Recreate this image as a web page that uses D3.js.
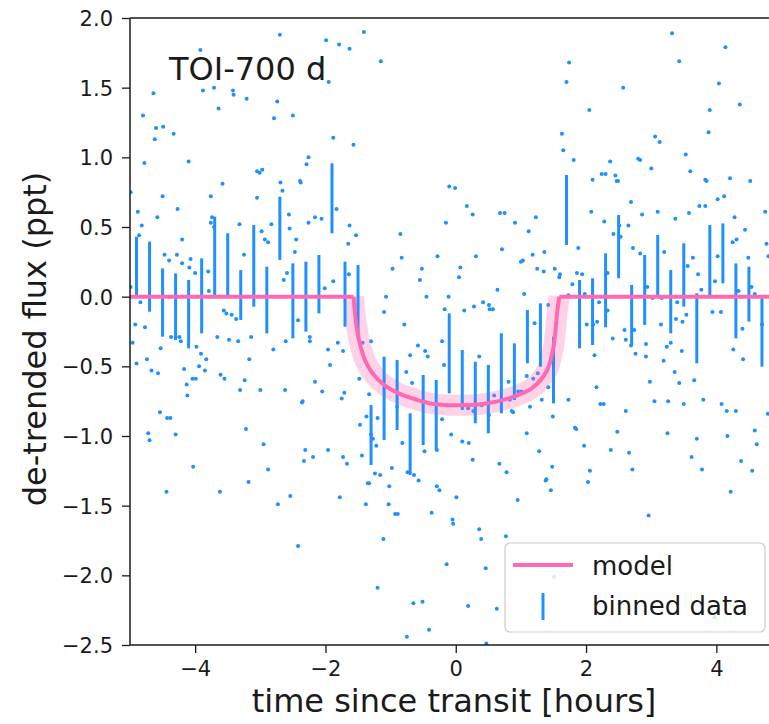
<!DOCTYPE html>
<html><head><meta charset="utf-8">
<script src="https://cdn.jsdelivr.net/npm/d3@7"></script>
<style>html,body{margin:0;padding:0;background:#fff;} svg{display:block;font-family:"DejaVu Sans",sans-serif;}</style>
</head><body><svg id="chart" width="769" height="724"></svg>
<script>
// ---- data ----
const xTicks = [-4, -2, 0, 2, 4];
const yTicks = [2.0, 1.5, 1.0, 0.5, 0.0, -0.5, -1.0, -1.5, -2.0, -2.5];

const binT = [-4.9,-4.7,-4.5,-4.3,-4.1,-3.9,-3.7,-3.5,-3.3,-3.1,-2.9,-2.7,-2.5,-2.3,-2.1,-1.9,-1.7,-1.5,-1.3,-1.1,-0.9,-0.7,-0.5,-0.3,-0.1,0.1,0.3,0.5,0.7,0.9,1.1,1.3,1.5,1.7,1.9,2.1,2.3,2.5,2.7,2.9,3.1,3.3,3.5,3.7,3.9,4.1,4.3,4.5,4.7];
const binLow = [0.0,-0.108,-0.287,-0.311,-0.371,-0.263,0.0,0.0,-0.167,-0.072,-0.263,0.263,-0.299,-0.251,-0.120,0.455,-0.215,-0.263,-1.208,-1.029,-0.957,-1.280,-1.065,-1.100,-0.694,-0.813,-0.909,-0.981,-0.837,-0.742,-0.478,-0.502,-0.766,0.371,-0.371,-0.347,-0.22,0.132,-0.347,-0.203,0.0,-0.263,-0.072,-0.478,0.012,0.096,-0.299,-0.179,-0.502];
const binHigh = [0.431,0.395,0.203,0.167,0.120,0.275,0.574,0.455,0.191,0.514,0.215,0.718,0.239,0.251,0.299,0.957,0.251,0.227,-0.778,-0.431,-0.455,-0.837,-0.562,-0.598,-0.120,-0.383,-0.467,-0.490,-0.263,-0.335,-0.096,-0.048,-0.287,0.873,0.120,0.132,0.311,0.586,0.084,0.299,0.443,0.191,0.383,0.024,0.514,0.526,0.239,0.215,-0.012];

const modelT = [-5.0,-1.57,-1.55,-1.52,-1.46,-1.38,-1.26,-1.08,-0.85,-0.60,-0.34,0.0,0.42,0.88,1.19,1.40,1.50,1.56,1.59,5.0];
const modelF = [0.0,0.0,-0.10,-0.22,-0.36,-0.47,-0.56,-0.64,-0.70,-0.74,-0.77,-0.78,-0.77,-0.72,-0.65,-0.53,-0.36,-0.10,0.0,0.0];

const dotT = [-3.92,-4.64,-3.88,-3.71,-3.42,-3.21,-4.80,-3.64,-4.60,-4.49,-4.62,-4.33,-4.78,-4.10,-3.58,-4.50,-3.76,-3.05,-4.27,-4.88,-4.58,-4.82,-3.32,-4.99,
-2.70,-1.99,-1.79,-1.63,-2.08,-1.95,-3.41,-2.74,-2.79,-2.50,-1.88,
-1.41,-1.15,-1.57,1.74,1.70,1.63,1.65,
3.32,4.14,3.43,4.04,2.57,2.05,3.90,4.36,3.88,3.06,3.13,3.53,1.81,2.37,2.80,2.83,3.00,3.60,2.10,2.24,2.30,2.45,2.47,2.49,3.83,3.85,4.21,4.52,2.69,2.08,2.86,3.10,3.37,3.58,3.74,3.83,4.02,4.12,4.28,4.44,4.75,2.28,2.65,2.51,2.53,2.42,1.88,2.72,2.83,3.20,3.64,3.56,4.02,3.98,4.31,4.25,4.77,4.49,4.80,2.33,2.33,1.86,1.94,1.79,1.98,2.20,2.01,2.11,2.17,2.59,2.74,2.41,2.94,3.02,3.16,3.15,3.40,3.38,3.48,3.54,3.72,3.77,3.94,4.07,4.40,4.34,4.54,4.59,4.70,1.73,1.60,
2.61,2.69,2.92,3.24,3.30,3.47,2.13,2.76,2.92,3.19,4.26,4.41,3.36,2.98,3.43,3.66,2.16,1.73,2.22,2.27,2.61,3.05,3.26,3.50,3.80,4.08,4.16,4.30,4.79,1.83,1.85,2.48,3.25,3.70,4.17,4.59,4.62,1.97,2.38,2.66,3.62,4.38,2.06,2.71,3.78,4.55,2.03,4.22,2.96,3.97,
-4.12,-3.31,-3.00,-2.62,-2.36,-4.54,-4.43,-4.38,-4.72,-4.70,-4.30,-3.22,-2.95,-2.31,-2.33,-4.03,-2.88,-3.18,-4.44,-3.62,-2.54,-2.73,-2.42,
-1.78,-1.38,-1.35,-1.03,-1.02,-0.93,-0.89,-1.11,-1.20,
-0.57,-0.29,-0.25,0.01,-0.37,-0.05,-0.04,0.36,0.39,0.77,0.95,1.46,1.38,-0.14,0.46,1.51,-0.65,-0.51,0.19,0.63,-0.75,-0.41,0.47,
-2.39,-0.10,-0.01,0.17,0.26,0.68,0.75,1.23,-2.26,-2.16,-2.06,-1.83,-1.63,-1.53,-1.65,-0.15,0.91,1.12,-0.85,0.71,1.36,-0.83,-0.28,0.31,1.18,1.00,1.03,-0.97,-0.52,0.07,0.05,-0.55,1.25,1.35,1.52,1.59,-1.88,-2.01,0.64,-1.07,-0.45,-0.11,1.05,0.28,0.42,0.51,0.52,0.57,0.13,-0.17,-1.10,-0.79,1.21,1.42,1.54,-2.24,-2.24,-1.96,-1.81,-1.73,-1.43,-1.30,-0.58,-0.47,-0.43,-0.21,-0.70,0.36,-0.18,-1.93,-2.16,-2.05,-1.75,-1.71,-1.48,-1.33,-0.76,-0.67,0.81,1.09,1.19,1.26,0.96,1.01,1.42,0.59,0.83,0.86,0.88,1.32,1.14,1.49,-2.35,-1.37,-1.20,-1.47,-0.90,0.19,0.27,0.40,0.51,-0.21,-0.07,0.10,0.20,1.09,-2.19,-1.96,-1.73,-1.44,-1.67,-1.30,-1.27,-1.22,-0.82,-0.48,-0.29,0.26,0.67,0.78,1.28,1.48,1.39,-1.24,-1.16,-0.98,-0.74,-0.64,-1.33,
-3.05,-3.01,-2.97,-2.26,-2.29,-2.69,-2.66,-2.38,-2.56,-4.86,-3.74,-3.76,-3.71,-4.20,-3.80,-3.25,-2.98,-2.83,-2.93,-2.88,-2.55,-2.45,-2.47,-4.47,-4.40,-4.28,-4.20,-4.07,-4.09,-4.00,-4.99,-3.79,-4.84,-4.92,-4.77,-4.96,-4.53,-4.74,-4.90,-4.67,-4.57,-4.37,-4.30,-4.24,-4.22,-3.98,-3.91,-3.83,-3.94,-3.85,-4.17,-4.13,-4.04,-3.99,-3.66,-3.56,-3.52,-3.44,-3.37,-3.48,-3.34,-3.14,-3.17,-3.61,-3.55,-3.24,-2.80,-2.64,-2.59,-2.61,-2.42,-1.64];
const dotF = [1.77,1.46,1.48,1.50,1.48,1.42,1.30,1.35,1.21,1.22,1.13,1.17,0.96,0.97,0.81,0.72,0.72,0.71,0.63,0.61,0.57,0.51,0.52,0.75,
1.88,1.84,1.81,1.78,1.67,1.54,1.45,1.40,1.28,1.30,1.14,
1.90,1.69,1.09,1.68,1.54,1.17,1.05,
1.89,1.79,1.69,1.53,1.50,1.34,1.34,1.38,1.18,1.15,1.11,1.02,0.98,0.97,0.99,0.98,0.92,0.90,0.84,0.88,0.88,0.87,0.83,0.83,0.84,0.83,0.85,0.83,0.68,0.61,0.59,0.61,0.56,0.60,0.65,0.65,0.70,0.72,0.57,0.48,0.61,0.54,0.51,0.51,0.43,0.45,0.35,0.35,0.31,0.32,0.28,0.22,0.29,0.11,0.41,0.39,0.38,0.28,0.29,0.17,-0.10,0.17,0.16,0.09,0.02,-0.04,-0.20,-0.20,-0.18,-0.24,-0.24,-0.30,0.07,-0.01,-0.01,-0.20,-0.04,-0.16,-0.18,-0.13,0.16,0.05,-0.11,-0.11,-0.23,0.04,0.07,0.02,-0.20,0.01,0.16,
-0.31,-0.35,-0.34,-0.36,-0.33,-0.39,-0.42,-0.41,-0.43,-0.46,-0.38,-0.45,-0.54,-0.61,-0.62,-0.60,-0.65,-0.74,-0.77,-0.77,-0.82,-0.75,-0.75,-0.77,-0.74,-0.77,-0.82,-0.82,-0.84,-0.94,-0.95,-0.97,-0.98,-1.02,-1.00,-0.96,-1.06,-1.07,-1.10,-1.12,-1.15,-1.18,-1.25,-1.24,-1.24,-1.25,-1.33,-1.40,-1.57,-2.30,
-0.71,-0.67,-0.67,-0.67,-0.76,-0.83,-0.87,-0.87,-0.98,-1.03,-0.99,-0.95,-1.06,-1.10,-1.18,-1.22,-1.24,-1.33,-1.40,-1.40,-1.43,-1.49,-1.79,
-1.44,-1.49,-1.34,-1.49,-1.36,-1.56,-1.56,-1.74,-2.09,
-1.32,-1.36,-1.39,-1.44,-1.55,-1.60,-1.63,-1.67,-1.74,-1.72,-1.46,-1.39,-1.32,-1.92,-1.95,-2.01,-2.20,-2.19,-2.22,-2.24,-2.44,-2.39,-2.49,
0.83,0.79,0.78,0.65,0.59,0.60,0.60,0.57,0.53,0.57,0.56,0.63,0.51,0.44,0.38,0.53,0.53,0.47,0.45,0.34,0.32,0.28,0.29,0.29,0.30,0.25,0.26,0.20,0.20,0.21,0.14,0.12,0.20,0.18,0.20,0.14,0.11,0.06,0.05,0.00,0.00,0.00,0.02,-0.07,-0.04,-0.06,-0.09,-0.09,-0.10,-0.09,-0.11,-0.20,-0.19,-0.06,-0.19,-0.29,-0.32,-0.38,-0.33,-0.39,-0.33,-0.32,-0.35,-0.39,-0.43,-0.32,-0.42,-0.43,-0.49,-0.49,-0.61,-0.68,-0.73,-0.69,-0.59,-0.70,-0.54,-0.62,-0.61,-0.57,-0.59,-0.55,-0.68,-0.68,-0.65,-0.71,-0.74,-0.82,-0.83,-0.74,-0.79,-0.86,-0.75,-0.86,-0.87,-0.92,-0.79,-0.80,-0.82,-0.78,-0.85,-0.88,-0.99,-1.04,-1.05,-0.98,-1.15,-1.10,-1.15,-1.14,-1.20,-0.99,-1.02,-1.07,-1.05,-1.11,-1.10,-1.17,-1.20,-1.26,-1.11,-1.22,-1.31,-1.27,-1.28,-1.23,-1.26,-1.28,-1.34,
0.90,0.89,0.91,1.00,0.95,0.82,0.76,0.82,0.59,0.44,0.57,0.53,0.50,0.41,0.18,0.30,0.47,0.52,0.41,0.39,0.49,0.41,0.32,0.30,0.26,0.30,0.24,0.27,0.21,0.17,0.07,0.04,-0.04,-0.20,-0.22,-0.33,-0.37,-0.45,-0.48,-0.53,-0.55,-0.29,-0.29,-0.29,-0.32,-0.36,-0.41,-0.45,-0.50,-0.53,-0.52,-0.63,-0.59,-0.59,-0.29,-0.10,-0.12,-0.13,-0.16,-0.31,-0.32,-0.29,-0.45,-0.56,-0.59,-0.60,-0.38,0.12,0.17,-0.32,-0.17,0.16];

// ---- layout ----
const svg = d3.select("#chart");
const L = 130, T = 18, B = 645;
const x = d3.scaleLinear().domain([-5, 5]).range([L, 781.5]);
const y = d3.scaleLinear().domain([-2.5, 2.0]).range([B, T]);
const blue = "#1e90ff", pink = "#ff69b4", ink = "#1a1a1a";

svg.append("defs").append("clipPath").attr("id", "clip")
  .append("rect").attr("x", L).attr("y", T).attr("width", 781.5 - L).attr("height", B - T);
const plot = svg.append("g").attr("clip-path", "url(#clip)");

// scatter
const dots = dotT.map((t, i) => ({t, f: dotF[i]}));
plot.append("g").selectAll("circle").data(dots).join("circle")
  .attr("cx", d => x(d.t)).attr("cy", d => y(d.f)).attr("r", 2)
  .attr("fill", blue);

// model band (posterior spread) along transit portion
const model = modelT.map((t, i) => ({t, f: modelF[i]}));
const transit = model.filter((d, i) => i > 0 && i < model.length - 1);
const line = d3.line().x(d => x(d.t)).y(d => y(d.f)).curve(d3.curveMonotoneY);
const lineAll = d3.line().x(d => x(d.t)).y(d => y(d.f)).curve(d3.curveLinear);
plot.append("path").attr("d", d3.line().x(d => x(d.t)).y(d => y(d.f)).curve(d3.curveCatmullRom)(transit))
  .attr("fill", "none").attr("stroke", pink).attr("stroke-opacity", 0.3)
  .attr("stroke-width", 21).attr("stroke-linecap", "butt").attr("stroke-linejoin", "round");

// binned error bars
const bins = binT.map((t, i) => ({t, lo: binLow[i], hi: binHigh[i]}));
plot.append("g").selectAll("line").data(bins).join("line")
  .attr("x1", d => x(d.t)).attr("x2", d => x(d.t))
  .attr("y1", d => y(d.lo)).attr("y2", d => y(d.hi))
  .attr("stroke", blue).attr("stroke-width", 3);

// model line
const left = model.slice(0, 2), right = model.slice(model.length - 2);
plot.append("path").attr("d", lineAll(left)).attr("fill", "none").attr("stroke", pink).attr("stroke-width", 4);
plot.append("path").attr("d", lineAll(right)).attr("fill", "none").attr("stroke", pink).attr("stroke-width", 4);
plot.append("path").attr("d", d3.line().x(d => x(d.t)).y(d => y(d.f)).curve(d3.curveCatmullRom)(transit))
  .attr("fill", "none").attr("stroke", pink).attr("stroke-width", 4).attr("stroke-linejoin", "round");

// axes
const yAxis = svg.append("g").attr("transform", `translate(${L},0)`)
  .call(d3.axisLeft(y).tickValues(yTicks).tickFormat(d3.format(".1f")).tickSize(8).tickPadding(9));
const xAxis = svg.append("g").attr("transform", `translate(0,${B})`)
  .call(d3.axisBottom(x).tickValues(xTicks).tickFormat(d3.format("d")).tickSize(8).tickPadding(6));
[yAxis, xAxis].forEach(g => {
  g.select(".domain").remove();
  g.selectAll(".tick line").attr("stroke", ink).attr("stroke-width", 1.3);
  g.selectAll(".tick text").attr("fill", ink).style("font-size", "21px").style("font-family", '"DejaVu Sans"');
});
yAxis.selectAll(".tick text").attr("dy", "0.36em");
xAxis.selectAll(".tick text").attr("dy", "0.82em");

// spines
svg.append("line").attr("x1", L).attr("x2", L).attr("y1", T).attr("y2", B).attr("stroke", ink).attr("stroke-width", 1.5);
svg.append("line").attr("x1", L).attr("x2", 781.5).attr("y1", B).attr("y2", B).attr("stroke", ink).attr("stroke-width", 1.5);
svg.append("line").attr("x1", L).attr("x2", 781.5).attr("y1", T).attr("y2", T).attr("stroke", ink).attr("stroke-width", 1.5);
svg.append("line").attr("x1", 781.5).attr("x2", 781.5).attr("y1", T).attr("y2", B).attr("stroke", ink).attr("stroke-width", 1.5);

// labels
svg.append("text").attr("x", 454).attr("y", 712).attr("text-anchor", "middle")
  .style("font-size", "32px").attr("fill", ink).text("time since transit [hours]");
svg.append("text").attr("transform", "translate(46,339) rotate(-90)").attr("text-anchor", "middle")
  .style("font-size", "32px").attr("fill", ink).text("de-trended flux (ppt)");
svg.append("text").attr("x", 169).attr("y", 80)
  .style("font-size", "32px").attr("fill", ink).text("TOI-700 d");

// legend
const lg = svg.append("g");
lg.append("rect").attr("x", 505).attr("y", 543).attr("width", 260).attr("height", 89).attr("rx", 5)
  .attr("fill", "#fff").attr("fill-opacity", 0.8).attr("stroke", "#cccccc").attr("stroke-width", 1.2);
lg.append("line").attr("x1", 513).attr("x2", 573).attr("y1", 565).attr("y2", 565).attr("stroke", pink).attr("stroke-width", 4);
lg.append("line").attr("x1", 543).attr("x2", 543).attr("y1", 593).attr("y2", 620).attr("stroke", blue).attr("stroke-width", 3);
lg.append("text").attr("x", 592).attr("y", 575).style("font-size", "26px").attr("fill", ink).text("model");
lg.append("text").attr("x", 592).attr("y", 615).style("font-size", "26px").attr("fill", ink).text("binned data");
</script></body></html>
